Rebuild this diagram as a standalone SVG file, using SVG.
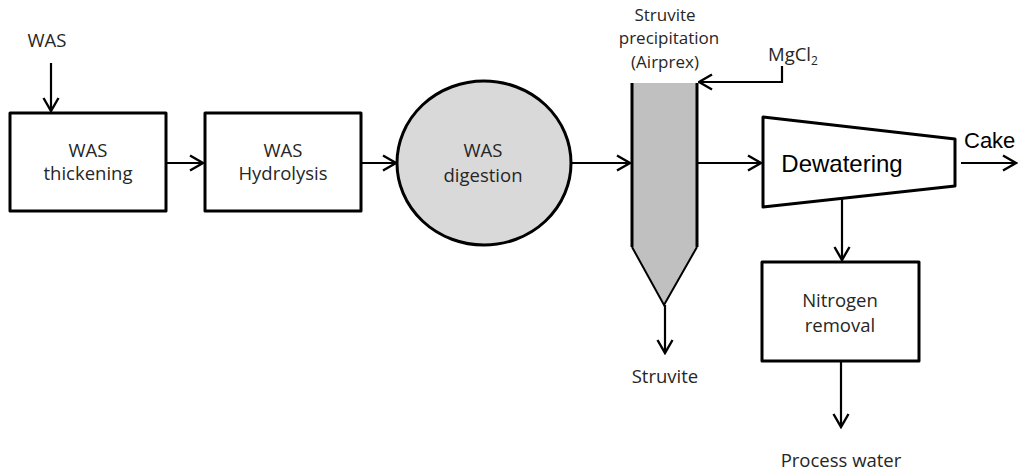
<svg xmlns="http://www.w3.org/2000/svg" width="1019" height="471" viewBox="0 0 1019 471">
  <defs>
    <style>
      .box { fill: #ffffff; stroke: #000000; stroke-width: 3; stroke-linejoin: round; }
      .flow { fill: none; stroke: #000000; stroke-width: 2.2; }
      .lbl { font-family: "Open Sans", "Liberation Sans", sans-serif; font-size: 18.5px; fill: #262626; text-anchor: middle; }
      .title { font-size: 17px; }
      .big { font-family: "Liberation Sans", Arial, sans-serif; fill: #000000; }
    </style>
    <marker id="arrow" viewBox="0 0 16 18" refX="14.5" refY="9" markerWidth="16" markerHeight="18" markerUnits="userSpaceOnUse" orient="auto">
      <path d="M1.5,1.5 L14.5,9 L1.5,16.5" fill="none" stroke="#000000" stroke-width="2.4"/>
    </marker>
  </defs>

  <rect width="1019" height="471" fill="#ffffff"/>

  <!-- process connectors -->
  <g id="connectors" class="flow" marker-end="url(#arrow)">
    <path d="M51,63 V111"/>
    <path d="M166,163 H203"/>
    <path d="M361,163 H396"/>
    <path d="M571,163 H630"/>
    <path d="M782,66 V82 H699"/>
    <path d="M697,163 H761"/>
    <path d="M961,163 H1016"/>
    <path d="M842,199 V260"/>
    <path d="M665,305 V353"/>
    <path d="M841,361 V427"/>
  </g>

  <!-- stream labels -->
  <g id="inlet-was">
    <text class="lbl" x="47" y="47">WAS</text>
  </g>
  <g id="mgcl2">
    <text class="lbl" x="768" y="61" style="text-anchor:start">MgCl<tspan font-size="12" dy="4">2</tspan></text>
  </g>
  <g id="cake">
    <text class="big" x="964" y="148" font-size="22">Cake</text>
  </g>
  <g id="struvite-out">
    <text class="lbl" x="665" y="383">Struvite</text>
  </g>
  <g id="process-water">
    <text class="lbl" x="841" y="467">Process water</text>
  </g>

  <!-- units -->
  <g id="thickening">
    <rect class="box" x="10" y="113" width="156" height="98"/>
    <text class="lbl" x="88" y="157">WAS</text>
    <text class="lbl" x="88" y="180">thickening</text>
  </g>

  <g id="hydrolysis">
    <rect class="box" x="205" y="113" width="156" height="98"/>
    <text class="lbl" x="283" y="157">WAS</text>
    <text class="lbl" x="283" y="180">Hydrolysis</text>
  </g>

  <g id="digestion">
    <ellipse cx="484" cy="163" rx="87" ry="82" fill="#d9d9d9" stroke="#000000" stroke-width="3"/>
    <text class="lbl" x="483" y="157">WAS</text>
    <text class="lbl" x="483" y="182">digestion</text>
  </g>

  <g id="struvite-reactor">
    <text class="lbl title" x="665" y="21">Struvite</text>
    <text class="lbl title" x="669" y="44.3">precipitation</text>
    <text class="lbl title" x="665" y="67.6">(Airprex)</text>
    <path d="M632,83 H697 V247 L664,305 L632,247 Z" fill="#c0c0c0" stroke="none"/>
    <path d="M632,83 V247" stroke="#000000" stroke-width="3" fill="none"/>
    <path d="M697,83 V247" stroke="#000000" stroke-width="3" fill="none"/>
    <path d="M632,247 L664,305 L697,247" stroke="#000000" stroke-width="2" fill="none" stroke-linejoin="miter"/>
  </g>

  <g id="dewatering">
    <path class="box" d="M763,117 L955,139 L955,186 L763,207 Z" stroke-linejoin="miter"/>
    <text class="big" x="842" y="172" font-size="24" text-anchor="middle">Dewatering</text>
  </g>

  <g id="nitrogen-removal">
    <rect class="box" x="762" y="262" width="157" height="99"/>
    <text class="lbl" x="840" y="307">Nitrogen</text>
    <text class="lbl" x="840" y="332">removal</text>
  </g>
</svg>
